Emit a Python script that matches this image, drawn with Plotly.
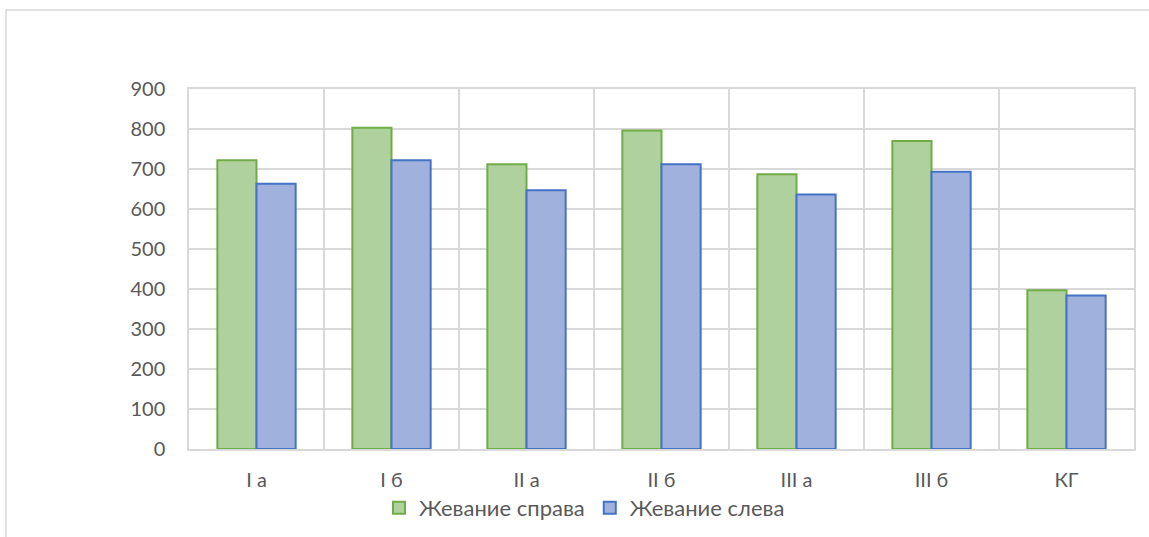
import plotly.graph_objects as go

categories = ["I а", "I б", "II а", "II б", "III а", "III б", "КГ"]
right_chewing = [722, 803, 712, 796, 687, 770, 397]
left_chewing = [663, 722, 647, 712, 636, 693, 384]
series_names = ["Жевание справа", "Жевание слева"]
y_ticks = [0, 100, 200, 300, 400, 500, 600, 700, 800, 900]

FONT = "Lato"
TXT = "#595959"
GRID = "#d9d9d9"

fig = go.Figure()
fig.add_trace(go.Bar(
    x=categories, y=right_chewing, name=series_names[0],
    marker=dict(color="#afd19e", line=dict(color="#70ad47", width=2)),
))
fig.add_trace(go.Bar(
    x=categories, y=left_chewing, name=series_names[1],
    marker=dict(color="#a1b1de", line=dict(color="#4472c4", width=2)),
))

fig.update_layout(
    width=1149, height=537,
    margin=dict(l=189, r=15, t=89, b=88, autoexpand=False),
    paper_bgcolor="white", plot_bgcolor="white",
    barmode="group", bargap=0.42, bargroupgap=0,
    font=dict(family=FONT, size=20, color=TXT),
    showlegend=True,
    legend=dict(orientation="h", x=379 / 1149, xref="container", xanchor="left",
                y=(537 - 508) / 537, yref="container", yanchor="middle",
                font=dict(family=FONT, size=22, color=TXT),
                itemwidth=30, bgcolor="rgba(0,0,0,0)"),
    xaxis=dict(type="category", tickson="boundaries", showgrid=True, gridcolor=GRID, gridwidth=1.5,
               showline=True, linecolor=GRID, linewidth=1.5, mirror=True, automargin=False,
               ticks="", ticklabelstandoff=12,
               tickfont=dict(family=FONT, size=20, color=TXT)),
    yaxis=dict(range=[0, 900], tickvals=y_ticks, showgrid=True, gridcolor=GRID, gridwidth=1.5,
               showline=True, linecolor=GRID, linewidth=1.5, mirror=True, zeroline=False,
               automargin=False,
               ticks="outside", ticklen=18, tickcolor="rgba(0,0,0,0)",
               tickfont=dict(family=FONT, size=20, color=TXT)),
    shapes=[dict(type="rect", xref="paper", yref="paper",
                 x0=(6 - 189) / 945, x1=1.2, y0=-0.5, y1=(449 - 10) / 360,
                 line=dict(color=GRID, width=1.5), fillcolor="rgba(0,0,0,0)", layer="below")],
)

fig.write_html("out.html")
